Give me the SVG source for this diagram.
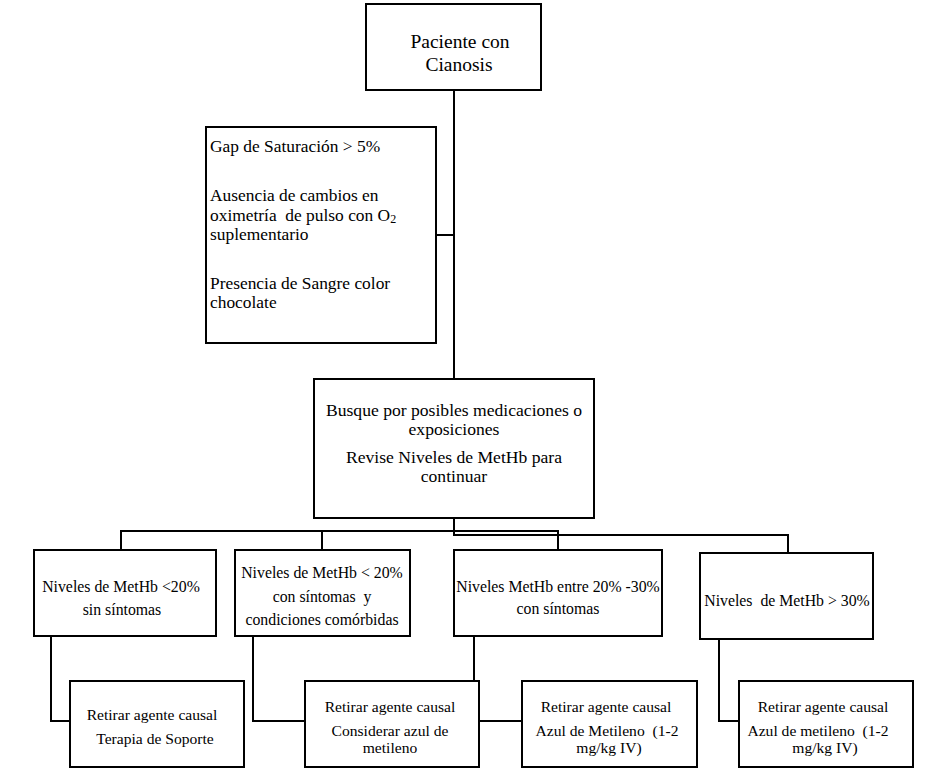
<svg xmlns="http://www.w3.org/2000/svg" width="932" height="780" viewBox="0 0 932 780" xml:space="preserve">
<style>
.box{fill:#fff;stroke:#000;stroke-width:2}
.ln{fill:none;stroke:#000;stroke-width:2}
text{font-family:"Liberation Serif","Times New Roman",serif;fill:#000;white-space:pre}
.c{text-anchor:middle}
.top{font-size:19.5px}
.left{font-size:17.4px}
.mid{font-size:17.6px}
.lv{font-size:15.8px}
.bt{font-size:15.6px}
</style>
<rect width="932" height="780" fill="#fff"/>
<g id="connectors">
<path class="ln" d="M454,90 V379"/>
<path class="ln" d="M436,235 H454"/>
<path class="ln" d="M454,518 V535 H788 V553"/>
<path class="ln" d="M121,550 V531 H558 V550"/>
<path class="ln" d="M322,531 V550"/>
<path class="ln" d="M51,636 V721 H70"/>
<path class="ln" d="M253,636 V721 H305"/>
<path class="ln" d="M474,636 V681"/>
<path class="ln" d="M479,721 H522"/>
<path class="ln" d="M719,639 V721 H739"/>
</g>
<g id="n-paciente">
<rect class="box" x="366" y="4" width="175" height="86"/>
<text class="c top" x="460" y="48">Paciente con</text>
<text class="c top" x="459" y="71">Cianosis</text>
</g>
<g id="n-criterios">
<rect class="box" x="206" y="127" width="230" height="216"/>
<text class="left" x="210" y="152">Gap de Saturación &gt; 5%</text>
<text class="left" x="210" y="201">Ausencia de cambios en</text>
<text class="left" x="210" y="221">oximetría  de pulso con O<tspan font-size="12" dy="2">2</tspan></text>
<text class="left" x="210" y="240">suplementario</text>
<text class="left" x="210" y="289">Presencia de Sangre color</text>
<text class="left" x="210" y="308">chocolate</text>
</g>
<g id="n-busque">
<rect class="box" x="314" y="379" width="280" height="139"/>
<text class="c mid" x="454" y="416">Busque por posibles medicaciones o</text>
<text class="c mid" x="454" y="435">exposiciones</text>
<text class="c mid" x="454" y="463">Revise Niveles de MetHb para</text>
<text class="c mid" x="454" y="482">continuar</text>
</g>
<g id="n-menor20-sin">
<rect class="box" x="34" y="550" width="182" height="86"/>
<text class="c lv" x="121" y="592">Niveles de MetHb &lt;20%</text>
<text class="c lv" x="122" y="615">sin síntomas</text>
</g>
<g id="n-menor20-con">
<rect class="box" x="235" y="550" width="175" height="86"/>
<text class="c lv" x="322" y="578">Niveles de MetHb &lt; 20%</text>
<text class="c lv" x="322" y="602">con síntomas  y</text>
<text class="c lv" x="322" y="625">condiciones comórbidas</text>
</g>
<g id="n-entre">
<rect class="box" x="454" y="550" width="208" height="86"/>
<text class="c lv" x="558" y="592">Niveles MetHb entre 20% -30%</text>
<text class="c lv" x="558" y="614">con síntomas</text>
</g>
<g id="n-mayor30">
<rect class="box" x="700" y="553" width="173" height="86"/>
<text class="c lv" x="787" y="606">Niveles  de MetHb &gt; 30%</text>
</g>
<g id="n-terapia">
<rect class="box" x="70" y="681" width="174" height="86"/>
<text class="c bt" x="152" y="720">Retirar agente causal</text>
<text class="c bt" x="155" y="744">Terapia de Soporte</text>
</g>
<g id="n-considerar">
<rect class="box" x="305" y="681" width="174" height="86"/>
<text class="c bt" x="390" y="712">Retirar agente causal</text>
<text class="c bt" x="390" y="736">Considerar azul de</text>
<text class="c bt" x="390" y="753">metileno</text>
</g>
<g id="n-azul1">
<rect class="box" x="522" y="681" width="175" height="86"/>
<text class="c bt" x="606" y="712">Retirar agente causal</text>
<text class="c bt" x="607" y="736">Azul de Metileno  (1-2</text>
<text class="c bt" x="609" y="753">mg/kg IV)</text>
</g>
<g id="n-azul2">
<rect class="box" x="739" y="681" width="174" height="86"/>
<text class="c bt" x="823" y="712">Retirar agente causal</text>
<text class="c bt" x="818" y="736">Azul de metileno  (1-2</text>
<text class="c bt" x="825" y="753">mg/kg IV)</text>
</g>
</svg>
